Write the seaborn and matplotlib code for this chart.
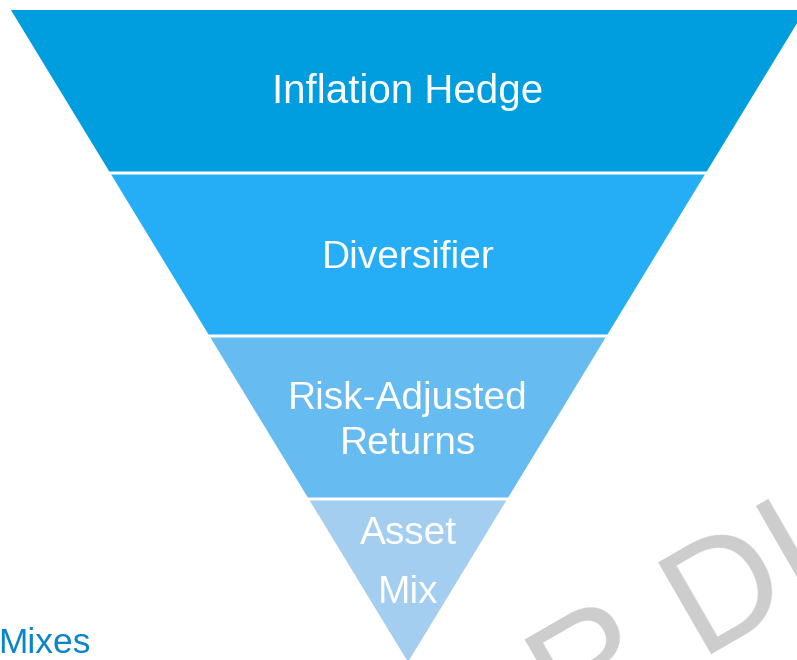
import matplotlib
matplotlib.use("Agg")
import matplotlib.pyplot as plt
import seaborn as sns

# ---- data ----
levels = ["Inflation Hedge", "Diversifier", "Risk-Adjusted\nReturns", "Asset\nMix"]
band_heights = [1, 1, 1, 1]          # equal-height funnel bands (top to bottom)
band_colors = ["#009EDE", "#25AEF5", "#66BBF0", "#A3CEF0"]
side_label = "Mixes"
watermark = "NOT FOR DISTRIBUTION"

# ---- layout / style ----
label_frac = [0.52, 0.50, 0.50, 0.63]   # vertical text centre inside each band
line_pitch_px = [45, 45, 45, 59]
label_sizes = [29, 28, 28, 28]

sns.set_theme(style="white")
plt.rcParams["font.family"] = ["Liberation Sans", "DejaVu Sans"]

W, H = 797, 660
PX = 163.0            # pixels per band height
CX, APEX = 408.0, 662.0
SLOPE = 0.609         # half-width per unit height

def to_data(xp, yp):
    return (xp - CX) / PX, (APEX - yp) / PX

fig = plt.figure(figsize=(W / 100, H / 100), dpi=100)
ax = fig.add_axes([0, 0, 1, 1])
x0, y0 = to_data(0, H)
x1, y1 = to_data(W, 0)
ax.set_xlim(x0, x1)
ax.set_ylim(y0, y1)
ax.set_axis_off()

palette = sns.color_palette(band_colors)
gap = 3.0 / PX
n = len(levels)
total = sum(band_heights)
top = total
for i, (lab, h) in enumerate(zip(levels, band_heights)):
    hi = top
    lo = top - h
    top = lo
    b = lo + (gap / 2 if i < n - 1 else 0)
    t = hi - (gap / 2 if i > 0 else 0)
    xs = [-SLOPE * b, SLOPE * b, SLOPE * t, -SLOPE * t]
    ys = [b, b, t, t]
    ax.fill(xs, ys, color=palette[i], lw=0, zorder=2)
    # labels
    lines = lab.split("\n")
    em = label_sizes[i] / 72 * 100
    cap = 0.716 * em
    yc = lo + h * label_frac[i]
    yc_px = APEX - yc * PX
    pitch = line_pitch_px[i]
    for j, ln in enumerate(lines):
        base_px = yc_px - (len(lines) - 1) / 2 * pitch + j * pitch + cap / 2
        ax.text(0, (APEX - base_px) / PX, ln, ha="center", va="baseline",
                color="white", fontsize=label_sizes[i], zorder=3)

# side label (cut at left edge)
sx, sy = to_data(-2, 653)
ax.text(sx, sy, side_label, ha="left", va="baseline", color="#0A85C8",
        fontsize=25.5, zorder=3)

# watermark
wx, wy = to_data(384 - 368 * 0.866, 843 + 368 * 0.5)
ax.text(wx, wy, watermark, ha="left", va="baseline", rotation=30,
        rotation_mode="anchor", color="#CDCDCD", fontsize=111, zorder=1)

fig.savefig("out.png", dpi=100)
